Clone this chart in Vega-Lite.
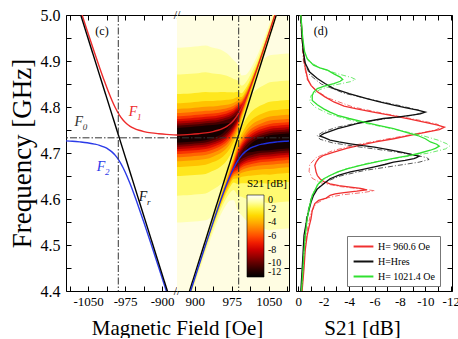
{
  "$schema": "https://vega.github.io/schema/vega-lite/v6.json",
  "autosize": {"type": "pad"},
  "padding": {"left": 8, "top": 7, "right": 4, "bottom": 0},
  "background": "#ffffff",
  "datasets": {
    "modes": [
      {"m":1,"h":864,"hn":-864,"f":4.7389,"e1":0.19,"e2":0.1316,"e3":0.0891,"e4":0.0694,"e5":0.057,"e6":0.0481,"e7":0.041,"e8":0.0352,"e9":0.03,"e10":0.0253,"e11":0.0208,"e12":0.0162},
      {"m":1,"h":877,"hn":-877,"f":4.7395,"e1":0.19,"e2":0.1316,"e3":0.0891,"e4":0.0694,"e5":0.057,"e6":0.0481,"e7":0.041,"e8":0.0352,"e9":0.03,"e10":0.0253,"e11":0.0208,"e12":0.0162},
      {"m":1,"h":892,"hn":-892,"f":4.7405,"e1":0.19,"e2":0.1316,"e3":0.0891,"e4":0.0694,"e5":0.057,"e6":0.0481,"e7":0.041,"e8":0.0352,"e9":0.03,"e10":0.0253,"e11":0.0208,"e12":0.0162},
      {"m":1,"h":907,"hn":-907,"f":4.7419,"e1":0.19,"e2":0.1316,"e3":0.0891,"e4":0.0694,"e5":0.057,"e6":0.0481,"e7":0.041,"e8":0.0352,"e9":0.03,"e10":0.0253,"e11":0.0208,"e12":0.0162},
      {"m":1,"h":922,"hn":-922,"f":4.7437,"e1":0.19,"e2":0.1316,"e3":0.0891,"e4":0.0694,"e5":0.057,"e6":0.0481,"e7":0.041,"e8":0.0352,"e9":0.03,"e10":0.0253,"e11":0.0208,"e12":0.0162},
      {"m":1,"h":937,"hn":-937,"f":4.7466,"e1":0.1822,"e2":0.126,"e3":0.0854,"e4":0.0664,"e5":0.0545,"e6":0.046,"e7":0.0391,"e8":0.0333,"e9":0.0283,"e10":0.0238,"e11":0.0191,"e12":0.0141},
      {"m":1,"h":947,"hn":-947,"f":4.7494,"e1":0.1771,"e2":0.1224,"e3":0.0829,"e4":0.0645,"e5":0.0529,"e6":0.0444,"e7":0.0377,"e8":0.0322,"e9":0.0273,"e10":0.0226,"e11":0.018,"e12":0.0126},
      {"m":1,"h":957,"hn":-957,"f":4.7534,"e1":0.169,"e2":0.1167,"e3":0.0791,"e4":0.0613,"e5":0.0503,"e6":0.0421,"e7":0.0357,"e8":0.0304,"e9":0.0255,"e10":0.0211,"e11":0.0164,"e12":0.0102},
      {"m":1,"h":965,"hn":-965,"f":4.758,"e1":0.1589,"e2":0.1097,"e3":0.0742,"e4":0.0575,"e5":0.047,"e6":0.0394,"e7":0.0333,"e8":0.0281,"e9":0.0234,"e10":0.019,"e11":0.0141,"e12":0.0066},
      {"m":1,"h":972,"hn":-972,"f":4.7636,"e1":0.1464,"e2":0.1009,"e3":0.0682,"e4":0.0527,"e5":0.0429,"e6":0.0359,"e7":0.0302,"e8":0.0254,"e9":0.0209,"e10":0.0165,"e11":0.0115,"e12":0.002},
      {"m":1,"h":979,"hn":-979,"f":4.7712,"e1":0.1302,"e2":0.0898,"e3":0.0605,"e4":0.0466,"e5":0.0379,"e6":0.0315,"e7":0.0263,"e8":0.0218,"e9":0.0176,"e10":0.0134,"e11":0.008,"e12":0},
      {"m":1,"h":987,"hn":-987,"f":4.783,"e1":0.1087,"e2":0.0748,"e3":0.0502,"e4":0.0385,"e5":0.0311,"e6":0.0257,"e7":0.0212,"e8":0.0173,"e9":0.0135,"e10":0.0094,"e11":0.003,"e12":0},
      {"m":1,"h":995,"hn":-995,"f":4.7985,"e1":0.0702,"e2":0.048,"e3":0.0315,"e4":0.0235,"e5":0.0183,"e6":0.0142,"e7":0.0107,"e8":0.0073,"e9":0.0025,"e10":0,"e11":0,"e12":0},
      {"m":1,"h":1002,"hn":-1002,"f":4.8148,"e1":0.0545,"e2":0.037,"e3":0.0238,"e4":0.0173,"e5":0.0129,"e6":0.0092,"e7":0.0056,"e8":0,"e9":0,"e10":0,"e11":0,"e12":0},
      {"m":1,"h":1009,"hn":-1009,"f":4.8331,"e1":0.0436,"e2":0.0293,"e3":0.0184,"e4":0.0129,"e5":0.009,"e6":0.0053,"e7":0,"e8":0,"e9":0,"e10":0,"e11":0,"e12":0},
      {"m":1,"h":1017,"hn":-1017,"f":4.8558,"e1":0.0351,"e2":0.0234,"e3":0.0143,"e4":0.0094,"e5":0.0056,"e6":0,"e7":0,"e8":0,"e9":0,"e10":0,"e11":0,"e12":0},
      {"m":1,"h":1027,"hn":-1027,"f":4.886,"e1":0.0269,"e2":0.0175,"e3":0.0098,"e4":0.0052,"e5":0,"e6":0,"e7":0,"e8":0,"e9":0,"e10":0,"e11":0,"e12":0},
      {"m":1,"h":1037,"hn":-1037,"f":4.9173,"e1":0.0219,"e2":0.0139,"e3":0.0069,"e4":0,"e5":0,"e6":0,"e7":0,"e8":0,"e9":0,"e10":0,"e11":0,"e12":0},
      {"m":1,"h":1052,"hn":-1052,"f":4.9657,"e1":0.0177,"e2":0.0107,"e3":0.0038,"e4":0,"e5":0,"e6":0,"e7":0,"e8":0,"e9":0,"e10":0,"e11":0,"e12":0},
      {"m":1,"h":1067,"hn":-1067,"f":5.0151,"e1":0.0152,"e2":0.0088,"e3":0,"e4":0,"e5":0,"e6":0,"e7":0,"e8":0,"e9":0,"e10":0,"e11":0,"e12":0},
      {"m":1,"h":1082,"hn":-1082,"f":5.065,"e1":0.0138,"e2":0.0076,"e3":0,"e4":0,"e5":0,"e6":0,"e7":0,"e8":0,"e9":0,"e10":0,"e11":0,"e12":0},
      {"m":1,"h":1095,"hn":-1095,"f":5.1085,"e1":0.0128,"e2":0.0068,"e3":0,"e4":0,"e5":0,"e6":0,"e7":0,"e8":0,"e9":0,"e10":0,"e11":0,"e12":0},
      {"m":2,"h":864,"hn":-864,"f":4.3071,"e1":0.0121,"e2":0.0062,"e3":0,"e4":0,"e5":0,"e6":0,"e7":0,"e8":0,"e9":0,"e10":0,"e11":0,"e12":0},
      {"m":2,"h":877,"hn":-877,"f":4.3508,"e1":0.0128,"e2":0.0068,"e3":0,"e4":0,"e5":0,"e6":0,"e7":0,"e8":0,"e9":0,"e10":0,"e11":0,"e12":0},
      {"m":2,"h":892,"hn":-892,"f":4.4011,"e1":0.0138,"e2":0.0076,"e3":0,"e4":0,"e5":0,"e6":0,"e7":0,"e8":0,"e9":0,"e10":0,"e11":0,"e12":0},
      {"m":2,"h":907,"hn":-907,"f":4.4509,"e1":0.0152,"e2":0.0088,"e3":0,"e4":0,"e5":0,"e6":0,"e7":0,"e8":0,"e9":0,"e10":0,"e11":0,"e12":0},
      {"m":2,"h":922,"hn":-922,"f":4.5003,"e1":0.0177,"e2":0.0107,"e3":0.0038,"e4":0,"e5":0,"e6":0,"e7":0,"e8":0,"e9":0,"e10":0,"e11":0,"e12":0},
      {"m":2,"h":937,"hn":-937,"f":4.5487,"e1":0.0219,"e2":0.0139,"e3":0.0069,"e4":0,"e5":0,"e6":0,"e7":0,"e8":0,"e9":0,"e10":0,"e11":0,"e12":0},
      {"m":2,"h":947,"hn":-947,"f":4.5801,"e1":0.0269,"e2":0.0175,"e3":0.0098,"e4":0.0052,"e5":0,"e6":0,"e7":0,"e8":0,"e9":0,"e10":0,"e11":0,"e12":0},
      {"m":2,"h":957,"hn":-957,"f":4.6102,"e1":0.0351,"e2":0.0234,"e3":0.0143,"e4":0.0094,"e5":0.0056,"e6":0,"e7":0,"e8":0,"e9":0,"e10":0,"e11":0,"e12":0},
      {"m":2,"h":965,"hn":-965,"f":4.6329,"e1":0.0436,"e2":0.0293,"e3":0.0184,"e4":0.0129,"e5":0.009,"e6":0.0053,"e7":0,"e8":0,"e9":0,"e10":0,"e11":0,"e12":0},
      {"m":2,"h":972,"hn":-972,"f":4.6512,"e1":0.0545,"e2":0.037,"e3":0.0238,"e4":0.0173,"e5":0.0129,"e6":0.0092,"e7":0.0056,"e8":0,"e9":0,"e10":0,"e11":0,"e12":0},
      {"m":2,"h":979,"hn":-979,"f":4.6675,"e1":0.0702,"e2":0.048,"e3":0.0315,"e4":0.0235,"e5":0.0183,"e6":0.0142,"e7":0.0107,"e8":0.0073,"e9":0.0025,"e10":0,"e11":0,"e12":0},
      {"m":2,"h":987,"hn":-987,"f":4.683,"e1":0.1087,"e2":0.0748,"e3":0.0502,"e4":0.0385,"e5":0.0311,"e6":0.0257,"e7":0.0212,"e8":0.0173,"e9":0.0135,"e10":0.0094,"e11":0.003,"e12":0},
      {"m":2,"h":995,"hn":-995,"f":4.6948,"e1":0.1302,"e2":0.0898,"e3":0.0605,"e4":0.0466,"e5":0.0379,"e6":0.0315,"e7":0.0263,"e8":0.0218,"e9":0.0176,"e10":0.0134,"e11":0.008,"e12":0},
      {"m":2,"h":1002,"hn":-1002,"f":4.7024,"e1":0.1464,"e2":0.1009,"e3":0.0682,"e4":0.0527,"e5":0.0429,"e6":0.0359,"e7":0.0302,"e8":0.0254,"e9":0.0209,"e10":0.0165,"e11":0.0115,"e12":0.002},
      {"m":2,"h":1009,"hn":-1009,"f":4.708,"e1":0.1589,"e2":0.1097,"e3":0.0742,"e4":0.0575,"e5":0.047,"e6":0.0394,"e7":0.0333,"e8":0.0281,"e9":0.0234,"e10":0.019,"e11":0.0141,"e12":0.0066},
      {"m":2,"h":1017,"hn":-1017,"f":4.7126,"e1":0.169,"e2":0.1167,"e3":0.0791,"e4":0.0613,"e5":0.0503,"e6":0.0421,"e7":0.0357,"e8":0.0304,"e9":0.0255,"e10":0.0211,"e11":0.0164,"e12":0.0102},
      {"m":2,"h":1027,"hn":-1027,"f":4.7167,"e1":0.1771,"e2":0.1224,"e3":0.0829,"e4":0.0645,"e5":0.0529,"e6":0.0444,"e7":0.0377,"e8":0.0322,"e9":0.0273,"e10":0.0226,"e11":0.018,"e12":0.0126},
      {"m":2,"h":1037,"hn":-1037,"f":4.7194,"e1":0.1822,"e2":0.126,"e3":0.0854,"e4":0.0664,"e5":0.0545,"e6":0.046,"e7":0.0391,"e8":0.0333,"e9":0.0283,"e10":0.0238,"e11":0.0191,"e12":0.0141},
      {"m":2,"h":1052,"hn":-1052,"f":4.7223,"e1":0.19,"e2":0.1316,"e3":0.0891,"e4":0.0694,"e5":0.057,"e6":0.0481,"e7":0.041,"e8":0.0352,"e9":0.03,"e10":0.0253,"e11":0.0208,"e12":0.0162},
      {"m":2,"h":1067,"hn":-1067,"f":4.7241,"e1":0.19,"e2":0.1316,"e3":0.0891,"e4":0.0694,"e5":0.057,"e6":0.0481,"e7":0.041,"e8":0.0352,"e9":0.03,"e10":0.0253,"e11":0.0208,"e12":0.0162},
      {"m":2,"h":1082,"hn":-1082,"f":4.7255,"e1":0.19,"e2":0.1316,"e3":0.0891,"e4":0.0694,"e5":0.057,"e6":0.0481,"e7":0.041,"e8":0.0352,"e9":0.03,"e10":0.0253,"e11":0.0208,"e12":0.0162},
      {"m":2,"h":1095,"hn":-1095,"f":4.7263,"e1":0.19,"e2":0.1316,"e3":0.0891,"e4":0.0694,"e5":0.057,"e6":0.0481,"e7":0.041,"e8":0.0352,"e9":0.03,"e10":0.0253,"e11":0.0208,"e12":0.0162}
    ],
    "fr": [
      {"h":864,"hn":-864,"f":4.313},
      {"h":1095,"hn":-1095,"f":5.1018}
    ],
    "refs": [{"f0":4.733,"hr":989,"hrn":-989}],
    "leftText": [
      {"hn":-1069,"f":4.767,"lab":"F","sub":"0","k":"F0"},
      {"hn":-959,"f":4.789,"lab":"F","sub":"1","k":"F1"},
      {"hn":-1024,"f":4.67,"lab":"F","sub":"2","k":"F2"},
      {"hn":-939,"f":4.604,"lab":"F","sub":"r","k":"Fr"}
    ],
    "rm": [
      {"f":5.0,"v":-0.2},{"f":4.96,"v":-0.3},{"f":4.92,"v":-0.4},{"f":4.885,"v":-0.55},{"f":4.86,"v":-0.75},{"f":4.847,"v":-1.0},{"f":4.833,"v":-1.5},{"f":4.822,"v":-2.1},{"f":4.811,"v":-2.8},{"f":4.802,"v":-3.6},{"f":4.796,"v":-4.6},{"f":4.789,"v":-5.9},{"f":4.782,"v":-7.3},{"f":4.774,"v":-8.7},{"f":4.767,"v":-9.9},{"f":4.761,"v":-10.9},{"f":4.756,"v":-11.5},{"f":4.751,"v":-11.1},{"f":4.746,"v":-10.2},{"f":4.739,"v":-8.9},{"f":4.731,"v":-7.5},{"f":4.724,"v":-6.1},{"f":4.717,"v":-4.9},{"f":4.71,"v":-3.8},{"f":4.702,"v":-2.8},{"f":4.695,"v":-2.0},{"f":4.688,"v":-1.6},{"f":4.68,"v":-1.4},{"f":4.673,"v":-1.3},{"f":4.666,"v":-1.35},{"f":4.659,"v":-1.4},{"f":4.651,"v":-1.5},{"f":4.644,"v":-1.7},{"f":4.638,"v":-2.0},{"f":4.633,"v":-2.5},{"f":4.629,"v":-3.2},{"f":4.626,"v":-4.1},{"f":4.623,"v":-4.9},{"f":4.62,"v":-5.4},{"f":4.617,"v":-4.6},{"f":4.614,"v":-3.6},{"f":4.611,"v":-2.9},{"f":4.608,"v":-2.5},{"f":4.602,"v":-2.2},{"f":4.597,"v":-1.6},{"f":4.59,"v":-1.3},{"f":4.575,"v":-1.1},{"f":4.557,"v":-1.0},{"f":4.54,"v":-0.85},{"f":4.521,"v":-0.7},{"f":4.49,"v":-0.55},{"f":4.449,"v":-0.45},{"f":4.4,"v":-0.3}
    ],
    "km": [
      {"f":5.0,"v":-0.2},{"f":4.95,"v":-0.3},{"f":4.92,"v":-0.4},{"f":4.895,"v":-0.55},{"f":4.876,"v":-0.9},{"f":4.862,"v":-1.5},{"f":4.851,"v":-2.1},{"f":4.84,"v":-2.8},{"f":4.829,"v":-4.0},{"f":4.818,"v":-5.4},{"f":4.811,"v":-6.4},{"f":4.804,"v":-7.5},{"f":4.798,"v":-8.5},{"f":4.793,"v":-9.4},{"f":4.789,"v":-10.0},{"f":4.785,"v":-9.6},{"f":4.782,"v":-8.8},{"f":4.778,"v":-7.8},{"f":4.775,"v":-6.7},{"f":4.769,"v":-5.5},{"f":4.764,"v":-4.6},{"f":4.758,"v":-3.8},{"f":4.753,"v":-3.1},{"f":4.747,"v":-2.5},{"f":4.742,"v":-2.0},{"f":4.737,"v":-1.7},{"f":4.733,"v":-2.1},{"f":4.728,"v":-2.5},{"f":4.724,"v":-3.2},{"f":4.72,"v":-4.1},{"f":4.716,"v":-5.1},{"f":4.713,"v":-6.0},{"f":4.707,"v":-7.2},{"f":4.702,"v":-8.1},{"f":4.697,"v":-8.9},{"f":4.693,"v":-9.5},{"f":4.69,"v":-9.3},{"f":4.688,"v":-9.1},{"f":4.684,"v":-8.4},{"f":4.68,"v":-7.5},{"f":4.675,"v":-6.8},{"f":4.67,"v":-6.0},{"f":4.664,"v":-5.0},{"f":4.659,"v":-4.1},{"f":4.652,"v":-3.2},{"f":4.644,"v":-2.5},{"f":4.633,"v":-2.0},{"f":4.622,"v":-1.5},{"f":4.608,"v":-1.2},{"f":4.593,"v":-1.0},{"f":4.56,"v":-0.7},{"f":4.521,"v":-0.45},{"f":4.47,"v":-0.35},{"f":4.4,"v":-0.2}
    ],
    "gm": [
      {"f":5.0,"v":-0.2},{"f":4.95,"v":-0.35},{"f":4.92,"v":-0.5},{"f":4.905,"v":-0.7},{"f":4.891,"v":-1.2},{"f":4.885,"v":-1.7},{"f":4.88,"v":-2.3},{"f":4.872,"v":-2.8},{"f":4.865,"v":-3.3},{"f":4.86,"v":-3.5},{"f":4.856,"v":-3.3},{"f":4.851,"v":-2.8},{"f":4.846,"v":-2.1},{"f":4.84,"v":-1.5},{"f":4.832,"v":-1.2},{"f":4.825,"v":-1.1},{"f":4.814,"v":-1.1},{"f":4.805,"v":-1.5},{"f":4.796,"v":-2.0},{"f":4.789,"v":-2.5},{"f":4.782,"v":-3.1},{"f":4.775,"v":-4.0},{"f":4.767,"v":-5.2},{"f":4.76,"v":-6.3},{"f":4.753,"v":-7.5},{"f":4.745,"v":-8.5},{"f":4.738,"v":-9.4},{"f":4.731,"v":-10.0},{"f":4.724,"v":-10.4},{"f":4.719,"v":-10.9},{"f":4.715,"v":-11.1},{"f":4.71,"v":-10.8},{"f":4.706,"v":-10.4},{"f":4.7,"v":-9.6},{"f":4.695,"v":-8.8},{"f":4.69,"v":-7.8},{"f":4.684,"v":-6.7},{"f":4.678,"v":-5.7},{"f":4.673,"v":-4.9},{"f":4.666,"v":-3.9},{"f":4.659,"v":-3.1},{"f":4.651,"v":-2.5},{"f":4.644,"v":-2.0},{"f":4.637,"v":-1.7},{"f":4.63,"v":-1.5},{"f":4.618,"v":-1.3},{"f":4.608,"v":-1.1},{"f":4.58,"v":-0.85},{"f":4.557,"v":-0.7},{"f":4.52,"v":-0.55},{"f":4.485,"v":-0.45},{"f":4.44,"v":-0.35},{"f":4.4,"v":-0.25}
    ],
    "rs": [
      {"f":5.0,"v":-0.15},{"f":4.9,"v":-0.4},{"f":4.86,"v":-0.7},{"f":4.84,"v":-1.2},{"f":4.82,"v":-2.3},{"f":4.8,"v":-4.3},{"f":4.785,"v":-6.9},{"f":4.772,"v":-9.4},{"f":4.763,"v":-10.9},{"f":4.757,"v":-11.3},{"f":4.75,"v":-10.8},{"f":4.742,"v":-9.3},{"f":4.73,"v":-6.9},{"f":4.718,"v":-4.6},{"f":4.705,"v":-2.7},{"f":4.69,"v":-1.4},{"f":4.675,"v":-0.9},{"f":4.66,"v":-0.85},{"f":4.645,"v":-1.1},{"f":4.635,"v":-1.8},{"f":4.627,"v":-3.3},{"f":4.621,"v":-5.2},{"f":4.618,"v":-6.0},{"f":4.614,"v":-5.1},{"f":4.609,"v":-3.4},{"f":4.602,"v":-2.2},{"f":4.59,"v":-1.4},{"f":4.57,"v":-1.0},{"f":4.54,"v":-0.75},{"f":4.5,"v":-0.55},{"f":4.45,"v":-0.4},{"f":4.4,"v":-0.3}
    ],
    "ks": [
      {"f":5.0,"v":-0.15},{"f":4.9,"v":-0.45},{"f":4.87,"v":-0.9},{"f":4.85,"v":-1.8},{"f":4.83,"v":-3.6},{"f":4.815,"v":-5.9},{"f":4.803,"v":-8.0},{"f":4.793,"v":-9.5},{"f":4.788,"v":-9.8},{"f":4.782,"v":-9.0},{"f":4.775,"v":-7.0},{"f":4.765,"v":-4.6},{"f":4.755,"v":-2.9},{"f":4.745,"v":-1.9},{"f":4.738,"v":-1.5},{"f":4.73,"v":-1.7},{"f":4.722,"v":-2.7},{"f":4.714,"v":-4.6},{"f":4.705,"v":-7.0},{"f":4.697,"v":-8.9},{"f":4.69,"v":-10.1},{"f":4.686,"v":-10.3},{"f":4.68,"v":-9.5},{"f":4.672,"v":-7.6},{"f":4.662,"v":-5.2},{"f":4.65,"v":-3.3},{"f":4.638,"v":-2.2},{"f":4.62,"v":-1.4},{"f":4.6,"v":-1.0},{"f":4.56,"v":-0.65},{"f":4.5,"v":-0.45},{"f":4.4,"v":-0.25}
    ],
    "gs": [
      {"f":5.0,"v":-0.15},{"f":4.92,"v":-0.45},{"f":4.9,"v":-0.8},{"f":4.885,"v":-1.7},{"f":4.873,"v":-3.0},{"f":4.864,"v":-4.2},{"f":4.86,"v":-4.5},{"f":4.855,"v":-4.1},{"f":4.848,"v":-2.9},{"f":4.838,"v":-1.7},{"f":4.825,"v":-1.0},{"f":4.812,"v":-0.9},{"f":4.8,"v":-1.3},{"f":4.785,"v":-2.4},{"f":4.77,"v":-4.3},{"f":4.755,"v":-7.0},{"f":4.74,"v":-9.5},{"f":4.728,"v":-11.0},{"f":4.72,"v":-11.7},{"f":4.715,"v":-11.9},{"f":4.709,"v":-11.6},{"f":4.7,"v":-10.3},{"f":4.69,"v":-8.0},{"f":4.678,"v":-5.5},{"f":4.665,"v":-3.7},{"f":4.65,"v":-2.4},{"f":4.635,"v":-1.7},{"f":4.615,"v":-1.2},{"f":4.59,"v":-0.9},{"f":4.55,"v":-0.65},{"f":4.5,"v":-0.45},{"f":4.4,"v":-0.25}
    ]
  },
  "hconcat": [
    {
      "hconcat": [
        {
          "width": 111,
          "height": 276,
          "layer": [
            {
              "data": {"name": "modes"},
              "encoding": {
                "x": {"field": "hn", "type": "quantitative", "scale": {"domain": [-1095, -870], "nice": false, "zero": false},
                  "axis": {"orient": "bottom", "values": [-1087.5, -1050, -1012.5, -975, -937.5, -900], "labelExpr": "datum.value % 75 == 0 ? datum.label : ''", "format": "d", "labelFontSize": 13, "labelPadding": 9, "title": "Magnetic Field [Oe]", "titleFontSize": 21, "titleX": 111, "titleAlign": "center", "titlePadding": 9}},
                "y": {"field": "f", "type": "quantitative", "scale": {"domain": [4.4, 5.0], "nice": false, "zero": false},
                  "axis": {"orient": "left", "values": [4.4, 4.45, 4.5, 4.55, 4.6, 4.65, 4.7, 4.75, 4.8, 4.85, 4.9, 4.95, 5.0], "labelExpr": "round(datum.value*100) % 10 == 0 ? format(datum.value, '.1f') : ''", "labelFontSize": 16, "labelPadding": 11, "title": "Frequency [GHz]", "titleFontSize": 27, "titlePadding": 4}}
              },
              "layer": [
                {"transform": [{"filter": "datum.m == 1"}], "mark": {"type": "line", "color": "#ee2b2b", "strokeWidth": 1.4, "clip": true, "interpolate": "monotone"}},
                {"transform": [{"filter": "datum.m == 2"}], "mark": {"type": "line", "color": "#2b3be8", "strokeWidth": 1.4, "clip": true, "interpolate": "monotone"}},
                {"data": {"name": "fr"}, "mark": {"type": "line", "color": "#000000", "strokeWidth": 1.4, "clip": true}},
                {"data": {"name": "leftText"}, "mark": {"type": "text", "fontStyle": "italic", "fontSize": 14, "align": "center", "baseline": "middle"},
                  "encoding": {"text": {"field": "lab"}, "color": {"field": "k", "type": "nominal", "scale": {"domain": ["F0", "F1", "F2", "Fr"], "range": ["#333333", "#ee2b2b", "#2b3be8", "#111111"]}, "legend": null}}},
                {"data": {"name": "leftText"}, "mark": {"type": "text", "fontStyle": "italic", "fontSize": 9, "align": "left", "baseline": "middle", "dx": 4, "dy": 5},
                  "encoding": {"text": {"field": "sub"}, "color": {"field": "k", "type": "nominal", "legend": null}}},
                {"data": {"values": [{"hn": -1022, "f": 4.965}]}, "mark": {"type": "text", "text": "(c)", "fontSize": 12, "color": "#000000"}},
                {"data": {"values": [{"hn": -870, "f": 5.0}, {"hn": -870, "f": 4.4}]}, "mark": {"type": "text", "text": "//", "fontSize": 12, "color": "#000000", "align": "center", "baseline": "middle"}}
              ]
            },
            {
              "data": {"name": "refs"},
              "mark": {"type": "rule", "color": "#333333", "strokeWidth": 1, "strokeDash": [7, 2, 1.5, 2]},
              "encoding": {"y": {"field": "f0", "type": "quantitative", "scale": {"domain": [4.4, 5.0], "nice": false, "zero": false}, "axis": null}}
            },
            {
              "data": {"name": "refs"},
              "mark": {"type": "rule", "color": "#333333", "strokeWidth": 1, "strokeDash": [7, 2, 1.5, 2]},
              "encoding": {"x": {"field": "hrn", "type": "quantitative", "scale": {"domain": [-1095, -870], "nice": false, "zero": false},
                "axis": {"orient": "top", "values": [-1087.5, -1050, -1012.5, -975, -937.5, -900], "labels": false, "title": null}}}
            }
          ],
          "resolve": {"axis": {"x": "independent", "y": "independent"}}
        },
        {
          "width": 112,
          "height": 276,
          "view": {"fill": "#fffde2"},
          "layer": [
            {
              "data": {"name": "modes"},
              "encoding": {
                "x": {"field": "h", "type": "quantitative", "scale": {"domain": [864, 1091], "nice": false, "zero": false},
                  "axis": {"orient": "bottom", "values": [900, 937.5, 975, 1012.5, 1050, 1087.5], "labelExpr": "datum.value % 75 == 0 ? datum.label : ''", "format": "d", "labelFontSize": 13, "labelPadding": 9, "title": null}},
                "y": {"field": "f", "type": "quantitative", "scale": {"domain": [4.4, 5.0], "nice": false, "zero": false}, "axis": null}
              },
              "layer": [
                {"mark": {"type": "errorband", "interpolate": "monotone", "clip": true, "band": {"opacity": 1, "clip": true}},
                  "encoding": {"yError": {"field": "e1"}, "detail": {"field": "m", "type": "nominal"},
                    "color": {"datum": -0.9, "type": "quantitative",
                      "scale": {"type": "linear", "domain": [-12, -11, -10, -9, -8, -7, -6, -5, -4, -3, -2, -1, 0], "range": ["#000000", "#2a0000", "#5e0000", "#960000", "#cc0000", "#f01c00", "#ff4c00", "#ff7e00", "#ffae00", "#ffd800", "#fff53c", "#ffffa8", "#ffffff"], "interpolate": "rgb"},
                      "legend": {"title": "S21 [dB]", "orient": "none", "legendX": 70, "legendY": 163, "direction": "vertical", "gradientLength": 82, "gradientThickness": 17, "values": [0, -2, -4, -6, -8, -10, -12], "format": "d", "labelOverlap": false, "labelFlush": false, "titleFontSize": 11, "titleFontWeight": "normal", "titleColor": "#000000", "labelFontSize": 10, "labelColor": "#000000", "labelOffset": 4, "titlePadding": 6, "gradientStrokeColor": "#000000", "gradientStrokeWidth": 0.6}}}},
                {"mark": {"type": "errorband", "interpolate": "monotone", "clip": true, "band": {"opacity": 1, "clip": true}}, "encoding": {"yError": {"field": "e2"}, "detail": {"field": "m", "type": "nominal"}, "color": {"datum": -1.5, "type": "quantitative", "legend": null}}},
                {"mark": {"type": "errorband", "interpolate": "monotone", "clip": true, "band": {"opacity": 1, "clip": true}}, "encoding": {"yError": {"field": "e3"}, "detail": {"field": "m", "type": "nominal"}, "color": {"datum": -2.5, "type": "quantitative", "legend": null}}},
                {"mark": {"type": "errorband", "interpolate": "monotone", "clip": true, "band": {"opacity": 1, "clip": true}}, "encoding": {"yError": {"field": "e4"}, "detail": {"field": "m", "type": "nominal"}, "color": {"datum": -3.5, "type": "quantitative", "legend": null}}},
                {"mark": {"type": "errorband", "interpolate": "monotone", "clip": true, "band": {"opacity": 1, "clip": true}}, "encoding": {"yError": {"field": "e5"}, "detail": {"field": "m", "type": "nominal"}, "color": {"datum": -4.5, "type": "quantitative", "legend": null}}},
                {"mark": {"type": "errorband", "interpolate": "monotone", "clip": true, "band": {"opacity": 1, "clip": true}}, "encoding": {"yError": {"field": "e6"}, "detail": {"field": "m", "type": "nominal"}, "color": {"datum": -5.5, "type": "quantitative", "legend": null}}},
                {"mark": {"type": "errorband", "interpolate": "monotone", "clip": true, "band": {"opacity": 1, "clip": true}}, "encoding": {"yError": {"field": "e7"}, "detail": {"field": "m", "type": "nominal"}, "color": {"datum": -6.5, "type": "quantitative", "legend": null}}},
                {"mark": {"type": "errorband", "interpolate": "monotone", "clip": true, "band": {"opacity": 1, "clip": true}}, "encoding": {"yError": {"field": "e8"}, "detail": {"field": "m", "type": "nominal"}, "color": {"datum": -7.5, "type": "quantitative", "legend": null}}},
                {"mark": {"type": "errorband", "interpolate": "monotone", "clip": true, "band": {"opacity": 1, "clip": true}}, "encoding": {"yError": {"field": "e9"}, "detail": {"field": "m", "type": "nominal"}, "color": {"datum": -8.5, "type": "quantitative", "legend": null}}},
                {"mark": {"type": "errorband", "interpolate": "monotone", "clip": true, "band": {"opacity": 1, "clip": true}}, "encoding": {"yError": {"field": "e10"}, "detail": {"field": "m", "type": "nominal"}, "color": {"datum": -9.5, "type": "quantitative", "legend": null}}},
                {"mark": {"type": "errorband", "interpolate": "monotone", "clip": true, "band": {"opacity": 1, "clip": true}}, "encoding": {"yError": {"field": "e11"}, "detail": {"field": "m", "type": "nominal"}, "color": {"datum": -10.5, "type": "quantitative", "legend": null}}},
                {"mark": {"type": "errorband", "interpolate": "monotone", "clip": true, "band": {"opacity": 1, "clip": true}}, "encoding": {"yError": {"field": "e12"}, "detail": {"field": "m", "type": "nominal"}, "color": {"datum": -11.5, "type": "quantitative", "legend": null}}},
                {"data": {"name": "fr"}, "mark": {"type": "line", "color": "#000000", "strokeWidth": 1.4, "clip": true}},
                {"transform": [{"filter": "datum.m == 1"}], "mark": {"type": "line", "color": "#e02020", "strokeWidth": 1.4, "clip": true, "interpolate": "monotone"}},
                {"transform": [{"filter": "datum.m == 2"}], "mark": {"type": "line", "color": "#2030e0", "strokeWidth": 1.4, "clip": true, "interpolate": "monotone"}}
              ]
            },
            {
              "data": {"name": "refs"},
              "mark": {"type": "rule", "color": "#333333", "strokeWidth": 1, "strokeDash": [7, 2, 1.5, 2]},
              "encoding": {"y": {"field": "f0", "type": "quantitative", "scale": {"domain": [4.4, 5.0], "nice": false, "zero": false},
                "axis": {"orient": "right", "values": [4.4, 4.45, 4.5, 4.55, 4.6, 4.65, 4.7, 4.75, 4.8, 4.85, 4.9, 4.95, 5.0], "labels": false, "title": null}}}
            },
            {
              "data": {"name": "refs"},
              "mark": {"type": "rule", "color": "#333333", "strokeWidth": 1, "strokeDash": [7, 2, 1.5, 2]},
              "encoding": {"x": {"field": "hr", "type": "quantitative", "scale": {"domain": [864, 1091], "nice": false, "zero": false},
                "axis": {"orient": "top", "values": [900, 937.5, 975, 1012.5, 1050, 1087.5], "labels": false, "title": null}}}
            }
          ],
          "resolve": {"axis": {"x": "independent", "y": "independent"}}
        }
      ],
      "spacing": 0,
      "bounds": "flush",
      "resolve": {"scale": {"color": "independent"}, "legend": {"color": "independent"}}
    },
    {
      "width": 156,
      "height": 276,
      "layer": [
        {
          "encoding": {
            "x": {"field": "v", "type": "quantitative", "scale": {"domain": [0.18, -12.1], "nice": false, "zero": false},
              "axis": {"orient": "bottom", "values": [0, -1, -2, -3, -4, -5, -6, -7, -8, -9, -10, -11, -12], "labelExpr": "datum.value % 2 == 0 ? datum.label : ''", "format": "d", "labelFontSize": 13, "labelPadding": 9, "title": "S21 [dB]", "titleFontSize": 21, "titlePadding": 9, "titleX": 66, "titleAlign": "center"}},
            "y": {"field": "f", "type": "quantitative", "scale": {"domain": [4.4, 5.0], "nice": false, "zero": false},
              "axis": {"orient": "left", "values": [4.4, 4.45, 4.5, 4.55, 4.6, 4.65, 4.7, 4.75, 4.8, 4.85, 4.9, 4.95, 5.0], "labels": false, "title": null}},
            "order": {"field": "f", "type": "quantitative"}
          },
          "layer": [
            {"data": {"name": "rm"}, "mark": {"type": "line", "strokeWidth": 1.3},
              "encoding": {"color": {"datum": "H= 960.6 Oe", "type": "nominal",
                "scale": {"domain": ["H= 960.6 Oe", "H=Hres", "H= 1021.4 Oe"], "range": ["#f03030", "#111111", "#30e030"]},
                "legend": {"title": null, "orient": "none", "legendX": 51, "legendY": 221, "symbolType": "M-1.8,0H1.8", "symbolStrokeWidth": 2, "symbolSize": 121, "symbolOffset": 6, "symbolDash": [1, 0], "labelFontSize": 10, "labelColor": "#000000", "strokeColor": "#777777", "fillColor": "#ffffff", "padding": 4, "rowPadding": 3, "labelOffset": 8}}}},
            {"data": {"name": "rs"}, "mark": {"type": "line", "strokeWidth": 1, "strokeDash": [5, 2, 1, 2], "opacity": 0.7}, "encoding": {"color": {"datum": "H= 960.6 Oe", "type": "nominal", "legend": null}}},
            {"data": {"name": "ks"}, "mark": {"type": "line", "strokeWidth": 1, "strokeDash": [5, 2, 1, 2], "opacity": 0.7}, "encoding": {"color": {"datum": "H=Hres", "type": "nominal", "legend": null}}},
            {"data": {"name": "gs"}, "mark": {"type": "line", "strokeWidth": 1, "strokeDash": [5, 2, 1, 2], "opacity": 0.7}, "encoding": {"color": {"datum": "H= 1021.4 Oe", "type": "nominal", "legend": null}}},
            {"data": {"name": "km"}, "mark": {"type": "line", "strokeWidth": 1.3}, "encoding": {"color": {"datum": "H=Hres", "type": "nominal", "legend": null}}},
            {"data": {"name": "gm"}, "mark": {"type": "line", "strokeWidth": 1.3}, "encoding": {"color": {"datum": "H= 1021.4 Oe", "type": "nominal", "legend": null}}}
          ]
        },
        {
          "data": {"values": [{"v": -1.76, "f": 4.965}]},
          "mark": {"type": "text", "text": "(d)", "fontSize": 12, "color": "#000000"},
          "encoding": {
            "x": {"field": "v", "type": "quantitative", "scale": {"domain": [0.18, -12.1], "nice": false, "zero": false},
              "axis": {"orient": "top", "values": [0, -1, -2, -3, -4, -5, -6, -7, -8, -9, -10, -11, -12], "labels": false, "title": null}},
            "y": {"field": "f", "type": "quantitative", "scale": {"domain": [4.4, 5.0], "nice": false, "zero": false},
              "axis": {"orient": "right", "values": [4.4, 4.45, 4.5, 4.55, 4.6, 4.65, 4.7, 4.75, 4.8, 4.85, 4.9, 4.95, 5.0], "labels": false, "title": null}}
          }
        }
      ],
      "resolve": {"axis": {"x": "independent", "y": "independent"}}
    }
  ],
  "spacing": 5,
  "resolve": {"scale": {"color": "independent"}, "legend": {"color": "independent"}},
  "config": {
    "font": "Liberation Serif",
    "view": {"stroke": null},
    "axis": {"domainColor": "#000000", "tickColor": "#000000", "labelColor": "#000000", "titleColor": "#000000", "grid": false, "labelFont": "Liberation Serif", "titleFont": "Liberation Serif", "titleFontWeight": "normal", "tickSize": -5, "labelOverlap": false, "labelFlush": false, "domainWidth": 1, "tickWidth": 1},
    "legend": {"labelFont": "Liberation Serif", "titleFont": "Liberation Serif"},
    "locale": {"number": {"decimal": ".", "thousands": ",", "grouping": [3], "currency": ["$", ""], "minus": "-"}}
  }
}
